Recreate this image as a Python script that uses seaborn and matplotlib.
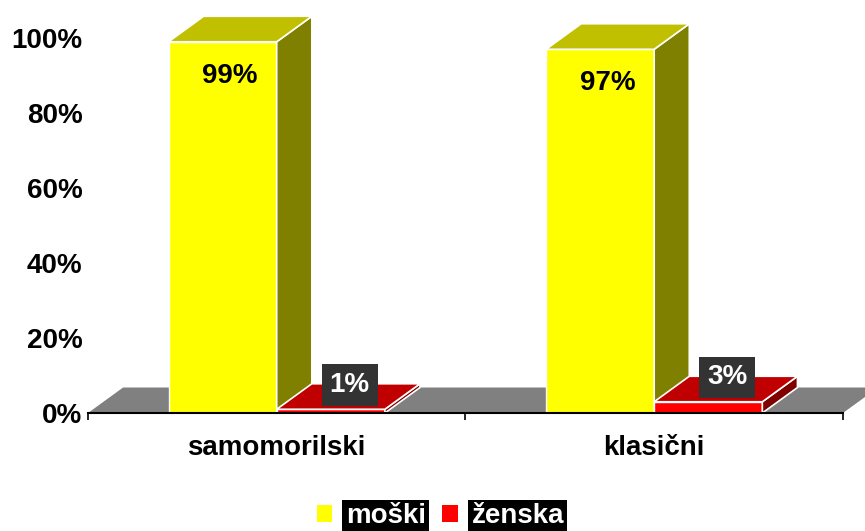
import pandas as pd
import numpy as np
import seaborn as sns
import matplotlib.pyplot as plt
from matplotlib.patches import Polygon

# data
kategorije = ['samomorilski', 'klasični']
spol = ['moški', 'ženska']
moski = [99, 97]
zenska = [1, 3]

front_cols = ['#FFFF00', '#FF0000']
top_cols = ['#C0C000', '#C00000']
side_cols = ['#808000', '#800000']

df = pd.DataFrame({
    'kategorija': kategorije * 2,
    'spol': [spol[0]] * len(kategorije) + [spol[1]] * len(kategorije),
    'delez': moski + zenska,
})

sns.set_theme(style='white')
plt.rcParams['font.family'] = ['Liberation Sans', 'DejaVu Sans']
plt.rcParams['font.weight'] = 'bold'
fs = 20

fig, ax = plt.subplots(figsize=(8.65, 5.31), dpi=100)
ax.set_position([0.1017, 0.2222, 0.8728, 0.7062])

sns.barplot(data=df, x='kategorija', y='delez', hue='spol', palette=front_cols,
            width=0.573, saturation=1, edgecolor='white', linewidth=1, ax=ax)
ax.set_xlim(-0.5, 1.5)
ax.set_ylim(0, 100)

# 3d depth offset (data units)
dx, dy = 0.093, 6.8

# floor
x0, x1 = ax.get_xlim()
floor = Polygon([(x0, 0), (x1, 0), (x1 + dx, dy), (x0 + dx, dy)], closed=True,
                facecolor='#808080', edgecolor='none', zorder=0.5, clip_on=False)
ax.add_patch(floor)

for i, cont in enumerate(ax.containers):
    for bar in cont.patches:
        bar.set_zorder(2 + i)
        bx, bw, bh = bar.get_x(), bar.get_width(), bar.get_height()
        top = Polygon([(bx, bh), (bx + bw, bh), (bx + bw + dx, bh + dy), (bx + dx, bh + dy)],
                      closed=True, facecolor=top_cols[i], edgecolor='white', lw=1.2,
                      zorder=2 + i, clip_on=False)
        side = Polygon([(bx + bw, 0), (bx + bw + dx, dy), (bx + bw + dx, bh + dy), (bx + bw, bh)],
                       closed=True, facecolor=side_cols[i], edgecolor='white', lw=1.2,
                       zorder=2 + i, clip_on=False)
        ax.add_patch(side)
        ax.add_patch(top)

# value labels
for bar in ax.containers[0].patches:
    cx = bar.get_x() + bar.get_width() / 2
    ax.text(cx + 0.02, bar.get_height() - 9, f'{bar.get_height():.0f}%',
            ha='center', va='center', fontsize=fs, fontweight='bold', color='black', zorder=6)
for bar in ax.containers[1].patches:
    cx = bar.get_x() + bar.get_width() / 2
    ax.text(cx + 0.05, bar.get_height() + 6.5, f'{bar.get_height():.0f}%',
            ha='center', va='center', fontsize=fs, fontweight='bold', color='white', zorder=6,
            bbox=dict(boxstyle='square,pad=0.28', facecolor='#333333', edgecolor='none'))

ax.set_xlabel('')
ax.set_ylabel('')
ax.set_yticks(np.arange(0, 101, 20))
ax.set_yticklabels([f'{v}%' for v in range(0, 101, 20)], fontsize=fs, fontweight='bold')
ax.set_xticks(range(len(kategorije)))
ax.set_xticklabels(kategorije, fontsize=fs, fontweight='bold')
ax.set_xticks([-0.5, 0.5, 1.5], minor=True)
ax.tick_params(axis='x', which='major', length=0, pad=16, colors='black')
ax.tick_params(axis='x', which='minor', length=5, width=1.2, direction='out', color='black', bottom=True)
ax.tick_params(axis='y', length=0, pad=4, colors='black')

for s in ['left', 'right', 'top']:
    ax.spines[s].set_visible(False)
ax.spines['bottom'].set_color('black')
ax.spines['bottom'].set_linewidth(1.5)
ax.spines['bottom'].set_zorder(7)

sns.move_legend(ax, loc='center', bbox_to_anchor=(0.509, 0.028), bbox_transform=fig.transFigure,
                ncol=2, frameon=False, title='', fontsize=fs, handlelength=0.55, handleheight=0.55,
                handletextpad=0.5, columnspacing=0.6)
leg = ax.get_legend()
for t in leg.get_texts():
    t.set_color('white')
    t.set_fontweight('bold')
    t.set_bbox(dict(boxstyle='square,pad=0.12', facecolor='black', edgecolor='none'))
for h in leg.legend_handles:
    h.set_edgecolor('none')

fig.savefig('out.png', dpi=100, facecolor='white')
